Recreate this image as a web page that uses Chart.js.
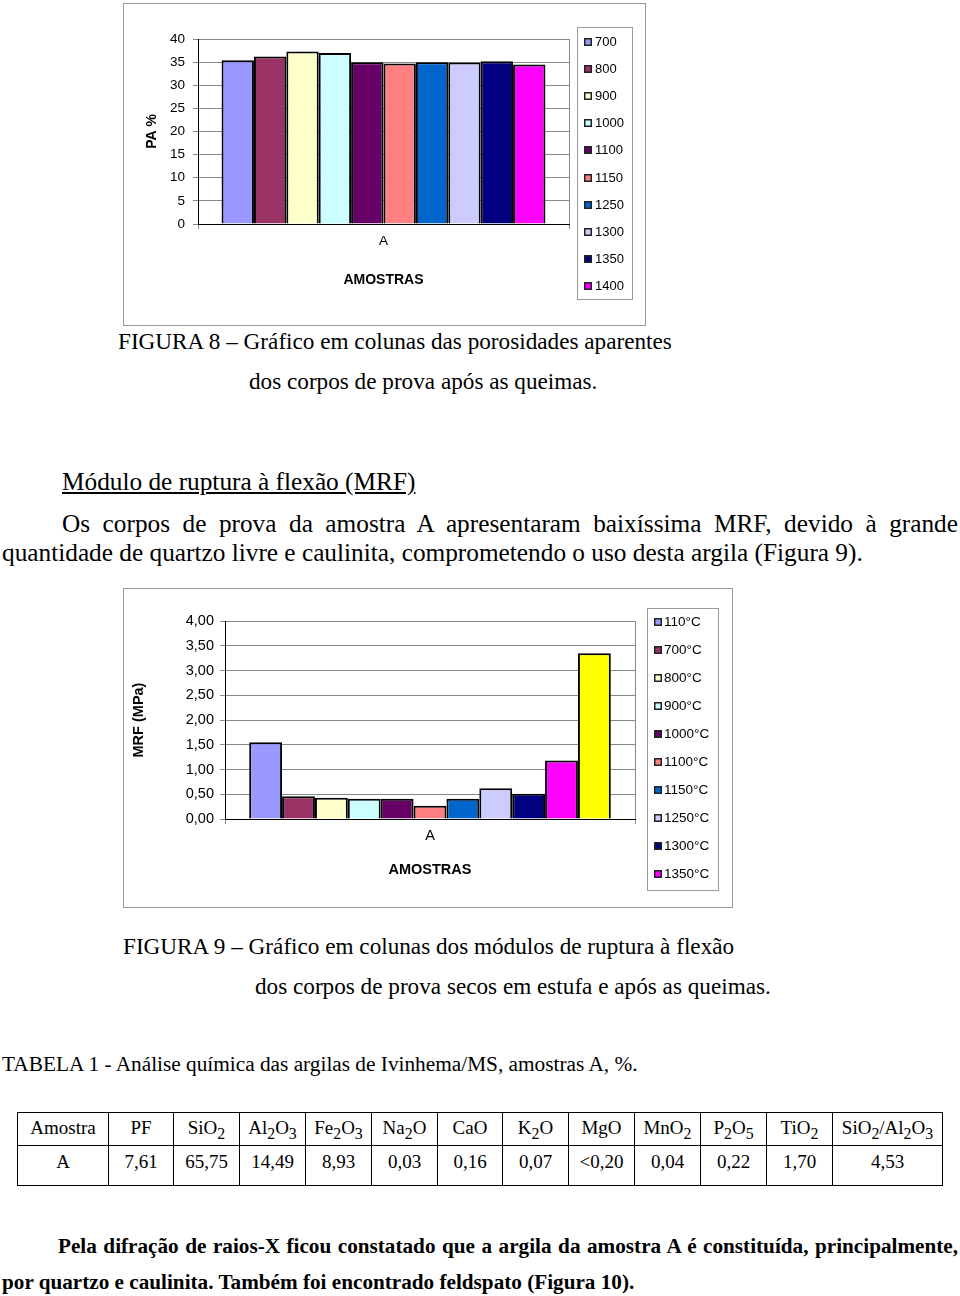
<!DOCTYPE html>
<html lang="pt">
<head>
<meta charset="utf-8">
<script src="https://cdn.jsdelivr.net/npm/chart.js@4.4.1/dist/chart.umd.min.js"></script>
<style>
  body { margin: 0; width: 960px; height: 1296px; background: #fff; position: relative; overflow: hidden;
         font-family: "Liberation Serif", "Times New Roman", serif; color: #000; }
  .t { position: absolute; line-height: 1; white-space: nowrap; }
  .cap { font-size: 23.2px; }
  .txt { font-size: 25.3px; }
  .neg { font-size: 21.2px; font-weight: bold; }
  .just { text-align: justify; text-align-last: justify; }
  .moldura { position: absolute; border: 1px solid #999; }
  table { position: absolute; left: 17px; top: 1112px; border-collapse: collapse; font-size: 19px; }
  td { border: 1.5px solid #000; text-align: center; vertical-align: top; padding: 0; line-height: 19px; }
  tr.h1 td { height: 33px; padding-top: 5px; box-sizing: border-box; }
  tr.h2 td { height: 40px; padding-top: 6px; box-sizing: border-box; }
</style>
</head>
<body>

<div class="moldura" style="left:123px; top:3px; width:521px; height:321px;">
  <canvas id="grafPA" width="521" height="321"></canvas>
</div>

<div class="t cap" style="left:118px; top:330px;">FIGURA 8 – Gráfico em colunas das porosidades aparentes</div>
<div class="t cap" style="left:249px; top:370px;">dos corpos de prova após as queimas.</div>

<div class="t txt" style="left:62px; top:469px; text-decoration: underline;">Módulo de ruptura à flexão (MRF)</div>
<div class="t txt just" style="left:62px; top:511px; width:896px;">Os corpos de prova da amostra A apresentaram baixíssima MRF, devido à grande</div>
<div class="t txt" style="left:2px; top:540px;">quantidade de quartzo livre e caulinita, comprometendo o uso desta argila (Figura 9).</div>

<div class="moldura" style="left:123px; top:588px; width:608px; height:318px;">
  <canvas id="grafMRF" width="608" height="318"></canvas>
</div>

<div class="t cap" style="left:123px; top:935px;">FIGURA 9 – Gráfico em colunas dos módulos de ruptura à flexão</div>
<div class="t cap" style="left:255px; top:975px;">dos corpos de prova secos em estufa e após as queimas.</div>

<div class="t" style="left:2px; top:1054px; font-size:21.3px;">TABELA 1 - Análise química das argilas de Ivinhema/MS, amostras A, %.</div>

<table>
  <tr class="h1">
    <td style="width:91px">Amostra</td><td style="width:65px">PF</td><td style="width:66px">SiO<sub>2</sub></td>
    <td style="width:66px">Al<sub>2</sub>O<sub>3</sub></td><td style="width:66px">Fe<sub>2</sub>O<sub>3</sub></td>
    <td style="width:66px">Na<sub>2</sub>O</td><td style="width:65px">CaO</td><td style="width:66px">K<sub>2</sub>O</td>
    <td style="width:66px">MgO</td><td style="width:66px">MnO<sub>2</sub></td><td style="width:66px">P<sub>2</sub>O<sub>5</sub></td>
    <td style="width:66px">TiO<sub>2</sub></td><td style="width:110px">SiO<sub>2</sub>/Al<sub>2</sub>O<sub>3</sub></td>
  </tr>
  <tr class="h2">
    <td>A</td><td>7,61</td><td>65,75</td><td>14,49</td><td>8,93</td><td>0,03</td><td>0,16</td>
    <td>0,07</td><td>&lt;0,20</td><td>0,04</td><td>0,22</td><td>1,70</td><td>4,53</td>
  </tr>
</table>

<div class="t neg just" style="left:58px; top:1236px; width:900px;">Pela difração de raios-X ficou constatado que a argila da amostra A é constituída, principalmente,</div>
<div class="t neg" style="left:2px; top:1272px;">por quartzo e caulinita. Também foi encontrado feldspato (Figura 10).</div>

<script>
// dados
const amostras = ['A'];

// figura 8 - porosidade aparente (%)
const tempPA = ['700', '800', '900', '1000', '1100', '1150', '1250', '1300', '1350', '1400'];
const valoresPA = [35.4, 36.2, 37.3, 37.0, 35.0, 34.7, 35.0, 34.9, 35.2, 34.5];
const coresPA = ['#9999FF', '#993366', '#FFFFCC', '#CCFFFF', '#660066', '#FF8080', '#0066CC', '#CCCCFF', '#000080', '#FF00FF'];
const ticksPA = ['0', '5', '10', '15', '20', '25', '30', '35', '40'];

// figura 9 - modulo de ruptura a flexao (MPa)
const tempMRF = ['110°C', '700°C', '800°C', '900°C', '1000°C', '1100°C', '1150°C', '1250°C', '1300°C', '1350°C', '1400°C'];
const valoresMRF = [1.55, 0.46, 0.43, 0.41, 0.41, 0.27, 0.41, 0.62, 0.51, 1.18, 3.35];
const coresMRF = ['#9999FF', '#993366', '#FFFFCC', '#CCFFFF', '#660066', '#FF8080', '#0066CC', '#CCCCFF', '#000080', '#FF00FF', '#FFFF00'];
const ticksMRF = ['0,00', '0,50', '1,00', '1,50', '2,00', '2,50', '3,00', '3,50', '4,00'];

Chart.defaults.font.family = '"Liberation Sans", Arial, sans-serif';
Chart.defaults.color = '#000';

// legenda desenhada a mao com moldura (estilo excel)
const legendaBox = {
  id: 'legendaBox',
  afterDraw(chart, args, opts) {
    const ctx = chart.ctx;
    const ca = chart.chartArea;
    const ds = chart.data.datasets.slice(0, opts.max);
    ctx.save();
    ctx.font = opts.font;
    let largura = 0;
    ds.forEach(d => { largura = Math.max(largura, ctx.measureText(d.label).width); });
    const x0 = Math.round(ca.right + opts.gap);
    const w = Math.round(opts.textX + largura + opts.extra);
    ctx.strokeStyle = '#999';
    ctx.lineWidth = 1;
    ctx.strokeRect(x0 + 0.5, opts.top + 0.5, w, opts.height);
    ctx.textBaseline = 'middle';
    ds.forEach((d, i) => {
      const y = Math.round(opts.first + i * opts.step);
      ctx.fillStyle = '#222';
      ctx.fillRect(x0 + 7, y - 3, 8, 8);
      ctx.fillStyle = d.backgroundColor;
      ctx.fillRect(x0 + 8.5, y - 1.5, 5, 5);
      ctx.fillStyle = '#000';
      ctx.fillText(d.label, x0 + opts.textX, y + 1);
    });
    ctx.restore();
  }
};

function montaDatasets(labels, valores, cores, catPerc) {
  return labels.map((l, i) => ({
    label: l,
    data: [valores[i]],
    backgroundColor: cores[i],
    borderColor: '#000',
    borderWidth: 2,
    categoryPercentage: catPerc,
    barPercentage: 1
  }));
}

// grafico 1
let ctx1 = document.getElementById('grafPA').getContext('2d');
new Chart(ctx1, {
  type: 'bar',
  data: { labels: amostras, datasets: montaDatasets(tempPA, valoresPA, coresPA, 0.873) },
  options: {
    responsive: false,
    animation: false,
    layout: { padding: { top: 35, right: 76, left: 0, bottom: 0 } },
    plugins: {
      legend: { display: false },
      tooltip: { enabled: false },
      legendaBox: { max: 10, font: '13px "Liberation Sans"', gap: 8, textX: 18, extra: 8, top: 23, height: 272, first: 37, step: 27.1 }
    },
    scales: {
      x: {
        grid: { offset: true, color: '#888', tickLength: 5 },
        border: { color: '#000', width: 1 },
        ticks: { font: { size: 13.5 }, padding: 4 },
        title: { display: true, text: 'AMOSTRAS', font: { size: 14, weight: 'bold' }, padding: { top: 0, bottom: 36 } },
        afterFit: s => { s.height = 101; }
      },
      y: {
        min: 0, max: 40,
        ticks: { stepSize: 5, font: { size: 13.5 }, padding: 8, callback: (v, i) => ticksPA[i] },
        grid: { color: '#888', tickLength: 5 },
        border: { color: '#000', width: 1 },
        title: { display: true, text: 'PA %', font: { size: 14, weight: 'bold' }, padding: { top: 20, bottom: 0 } },
        afterFit: s => { s.width = 74; }
      }
    }
  },
  plugins: [legendaBox]
});

// grafico 2
let ctx2 = document.getElementById('grafMRF').getContext('2d');
new Chart(ctx2, {
  type: 'bar',
  data: { labels: amostras, datasets: montaDatasets(tempMRF, valoresMRF, coresMRF, 0.882) },
  options: {
    responsive: false,
    animation: false,
    layout: { padding: { top: 32, right: 97, left: 0, bottom: 0 } },
    plugins: {
      legend: { display: false },
      tooltip: { enabled: false },
      legendaBox: { max: 10, font: '13.5px "Liberation Sans"', gap: 12, textX: 17, extra: 9, top: 19, height: 282, first: 32, step: 28 }
    },
    scales: {
      x: {
        grid: { offset: true, color: '#888', tickLength: 5 },
        border: { color: '#000', width: 1 },
        ticks: { font: { size: 14.5 }, padding: 3 },
        title: { display: true, text: 'AMOSTRAS', font: { size: 14.5, weight: 'bold' }, padding: { top: 0, bottom: 28 } },
        afterFit: s => { s.height = 88; }
      },
      y: {
        min: 0, max: 4,
        ticks: { stepSize: 0.5, font: { size: 14.5 }, padding: 6, callback: (v, i) => ticksMRF[i] },
        grid: { color: '#888', tickLength: 5 },
        border: { color: '#000', width: 1 },
        title: { display: true, text: 'MRF (MPa)', font: { size: 14.5, weight: 'bold' }, padding: { top: 6, bottom: 0 } },
        afterFit: s => { s.width = 101; }
      }
    }
  },
  plugins: [legendaBox]
});
</script>
</body>
</html>
